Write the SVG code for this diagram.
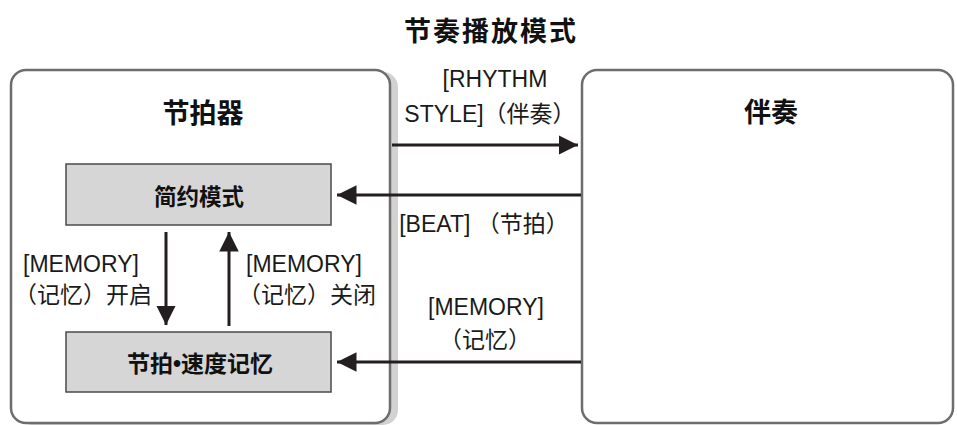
<svg xmlns="http://www.w3.org/2000/svg" width="957" height="425" viewBox="0 0 957 425">
<defs>
<style>
.frame{fill:#fff;stroke:#6d6d6d;stroke-width:2.5}
.shadow{fill:#d2d2d2}
.inner{fill:#d6d6d6;stroke:#4a4a4a;stroke-width:1.5}
.t{font-family:"Liberation Sans","Noto Sans CJK SC",sans-serif;fill:#1a1a1a;text-anchor:middle}
.b{font-family:"Noto Sans CJK SC","Liberation Sans",sans-serif;font-weight:bold;fill:#111;text-anchor:middle}
.lbl{font-size:23px}
.ln{stroke:#231f20;stroke-width:3;fill:none}
</style>
<marker id="ah" viewBox="0 0 10 10" refX="10" refY="5" markerWidth="6.5" markerHeight="7" markerUnits="strokeWidth" orient="auto">
<path d="M0,0 L10,5 L0,10 Z" fill="#231f20"/>
</marker>
</defs>
<text class="b" x="491" y="41" font-size="27" letter-spacing="2">节奏播放模式</text>
<g id="metronome">
<rect class="shadow" x="17" y="72" width="381" height="353" rx="15"/>
<rect class="frame" x="11" y="70" width="379" height="353" rx="15"/>
<text class="b" x="203" y="123" font-size="27">节拍器</text>
</g>
<g id="accomp">
<rect class="frame" x="582" y="70" width="371" height="353" rx="15"/>
<text class="b" x="771" y="122" font-size="27">伴奏</text>
</g>
<g id="simple">
<rect class="inner" x="66" y="164" width="265" height="61"/>
<text class="b" x="199" y="205" font-size="22.5">简约模式</text>
</g>
<g id="memory">
<rect class="inner" x="66" y="332" width="265" height="60"/>
<text class="b" x="200" y="372" font-size="23">节拍<tspan font-family="Liberation Sans">•</tspan>速度记忆</text>
</g>
<g id="connectors">
<line class="ln" x1="166" y1="232" x2="166" y2="325" marker-end="url(#ah)"/>
<line class="ln" x1="229" y1="326" x2="229" y2="232" marker-end="url(#ah)"/>
<line class="ln" x1="392" y1="145" x2="578" y2="145" marker-end="url(#ah)"/>
<line class="ln" x1="581" y1="195" x2="337" y2="195" marker-end="url(#ah)"/>
<line class="ln" x1="581" y1="362" x2="337" y2="362" marker-end="url(#ah)"/>
<text class="t lbl" x="81" y="272">[MEMORY]</text>
<text class="t lbl" x="83" y="303">（记忆）开启</text>
<text class="t lbl" x="304" y="272">[MEMORY]</text>
<text class="t lbl" x="307" y="303">（记忆）关闭</text>
<text class="t lbl" x="495" y="87">[RHYTHM</text>
<text class="t lbl" x="490" y="122">STYLE]（伴奏）</text>
<text class="t lbl" x="484" y="232">[BEAT] （节拍）</text>
<text class="t lbl" x="486" y="315">[MEMORY]</text>
<text class="t lbl" x="485" y="348">（记忆）</text>
</g>
</svg>
